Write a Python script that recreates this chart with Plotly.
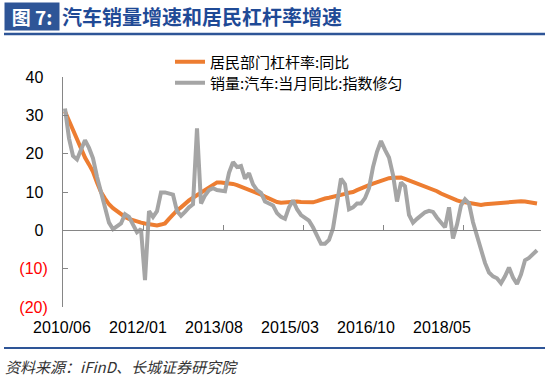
import plotly.graph_objects as go
import pandas as pd

# ---------------- data ----------------
months = [d.strftime("%Y/%m") for d in pd.date_range("2010-06-01", periods=119, freq="MS")]

leverage_yoy = [
    31, 28.5, 26, 23.5, 21.2, 19, 17.2, 15.3, 12.5, 10,
    8.3, 6.8, 5.8, 5, 4.2, 3.5, 3, 2.6, 2.3, 2,
    1.8, 1.6, 1.4, 1.3, 1.5, 1.8, 3, 4.2, 5.2, 6,
    7, 7.8, 8.5, 9.2, 9.8, 10.4, 11, 11.8, 12.5, 12.5,
    12.4, 12.3, 12.1, 11.8, 11.4, 11, 10.7, 10.3, 9.9, 9.3,
    8.8, 8.3, 7.8, 7.4, 7.2, 7.3, 7.4, 7.5, 7.5, 7.4,
    7.3, 7.3, 7.3, 7.6, 8, 8.3, 8.5, 8.7, 9, 9.2,
    9.5, 9.8, 10, 10.5, 11, 11.4, 11.8, 12.2, 12.6, 13,
    13.4, 13.6, 13.7, 13.8, 13.8, 13.4, 13, 12.6, 12.3, 12,
    11.6, 11.2, 10.7, 10.2, 9.6, 9.1, 8.6, 8.2, 7.8, 7.5,
    7.3, 7.1, 6.9, 6.7, 6.6, 6.8, 6.9, 7, 7.1, 7.2,
    7.3, 7.35, 7.45, 7.55, 7.6, 7.5, 7.3, 7.1, 7,
]

auto_sales_yoy = [
    31.8, 24, 19.4, 18.5, 21, 23.5, 21.5, 18.8, 14, 10,
    6.5, 2, 0.3, 0.9, 1.8, 4.2, 3.5, 1.5, -0.5, 0.3,
    -13, 5, 3.5, 5, 9.9, 9.9, 9.6, 9.3, 5, 3.8,
    4.8, 6, 6.8, 26.6, 7, 9.1, 10.5, 11, 10.5, 10.4,
    10.2, 15, 17.8, 16.5, 16.8, 13.5, 14.9, 12, 10.5, 9.8,
    7.5, 7, 6.5, 4.5, 3.5, 3, 6, 7.8, 5.5, 4,
    3.4, 2.5, 0.8, -1.5, -3.5, -3.5, -2.5, 0.5, 7.3, 13.5,
    12, 5.5, 6, 7, 7, 8.4, 11, 16.5, 20.5, 23.3,
    21, 19, 14.5, 7.5, 12.5, 11.5, 4, 2, 3, 4,
    4.7, 5.1, 4.8, 3.3, 2, 0.8, 6, -2.1, 1.5, 6.5,
    8.1, 7, 2.1, -1.3, -5.5, -8.5, -11, -12, -12.5, -13.8,
    -12, -9.7, -12.3, -14, -11.5, -7.8, -7.2, -6.3, -5.2,
]

x_tick_labels = ["2010/06", "2012/01", "2013/08", "2015/03", "2016/10", "2018/05"]
axis_tick_months = ["2012/01", "2013/09", "2015/05", "2017/01", "2018/09"]
y_tick_values = [40, 30, 20, 10, 0, -10, -20]

series_names = ["居民部门杠杆率:同比", "销量:汽车:当月同比:指数修匀"]
title_tag = "图 7:"
title_text = "汽车销量增速和居民杠杆率增速"
source_text = "资料来源：iFinD、长城证券研究院"

# ---------------- styling ----------------
FONT = "Liberation Sans, Arial, Noto Sans CJK SC, sans-serif"
CJK = "Noto Sans CJK SC, Liberation Sans, sans-serif"
ORANGE = "#ED7D31"
GRAY = "#A5A5A5"
AXIS = "#868686"
BLUE = "#1F4A96"
BAR_BLUE = "#2E5597"

W, H = 550, 378
PL, PR, PT, PB = 63, 541, 77, 307   # plot area in px
PW, PH = PR - PL, PB - PT

px = lambda v: (v - PL) / PW      # px -> paper x
py = lambda v: (PB - v) / PH      # px -> paper y

idx = list(range(len(months)))


def fmt_tick(v):
    if v < 0:
        return "<span style='color:#FF0000'>(%d)</span>" % abs(v)
    return "%d\u2008" % v


fig = go.Figure()
fig.add_trace(go.Scatter(x=idx, y=leverage_yoy, mode="lines", name=series_names[0],
                         line=dict(color=ORANGE, width=4), customdata=months,
                         legend="legend"))
fig.add_trace(go.Scatter(x=idx, y=auto_sales_yoy, mode="lines", name=series_names[1],
                         line=dict(color=GRAY, width=4), customdata=months,
                         legend="legend2"))
# helper trace so the zero-line axis is drawn
fig.add_trace(go.Scatter(x=[0], y=[None], xaxis="x2", showlegend=False, hoverinfo="skip"))

y_min, y_max = -20, 40
x_range = [-0.5, 119]

legend_style = dict(xanchor="left", yanchor="middle",
                    font=dict(family=CJK, size=15, color="black"),
                    bgcolor="rgba(0,0,0,0)", borderwidth=0)

fig.update_layout(
    width=W, height=H,
    margin=dict(l=PL, r=W - PR, t=PT, b=H - PB, autoexpand=False),
    paper_bgcolor="white", plot_bgcolor="white",
    font=dict(family=FONT, size=16, color="black"),
    showlegend=True,
    legend=dict(x=px(170), y=py(62), **legend_style),
    legend2=dict(x=px(170), y=py(83), **legend_style),
    xaxis=dict(range=x_range, tickmode="array",
               tickvals=[months.index(l) for l in x_tick_labels],
               ticktext=x_tick_labels, ticks="", showline=False,
               showgrid=False, zeroline=False,
               tickfont=dict(size=16, color="black"),
               ticklabelshift=-3, ticklabelstandoff=9),
    xaxis2=dict(overlaying="x", anchor="free",
                position=(0 - y_min) / (y_max - y_min),
                range=x_range, showline=True, linecolor=AXIS, linewidth=1,
                ticks="inside", ticklen=5, tickcolor=AXIS,
                tickvals=[months.index(m) + 0.5 for m in axis_tick_months],
                showticklabels=False, showgrid=False, zeroline=False),
    yaxis=dict(range=[y_min, y_max], tickmode="array", tickvals=y_tick_values,
               ticktext=[fmt_tick(v) for v in y_tick_values],
               showline=True, linecolor=AXIS, linewidth=1,
               ticks="inside", ticklen=5, tickcolor=AXIS,
               showgrid=False, zeroline=False,
               tickfont=dict(size=16, color="black"), ticklabelstandoff=11),
)

fig.add_shape(type="line", xref="paper", yref="paper", x0=px(4), x1=px(545),
              y0=py(34), y1=py(34), line=dict(color=BAR_BLUE, width=2.5))
fig.add_shape(type="line", xref="paper", yref="paper", x0=px(4), x1=px(545),
              y0=py(348), y1=py(348), line=dict(color=BAR_BLUE, width=2))

fig.add_annotation(xref="paper", yref="paper", x=px(32), y=py(16.5),
                   xanchor="center", yanchor="middle", showarrow=False,
                   text="<b>%s</b>" % title_tag, bgcolor=BAR_BLUE,
                   width=52, height=25,
                   font=dict(family=CJK, size=19, color="white"))
fig.add_annotation(xref="paper", yref="paper", x=px(60), y=py(17),
                   xanchor="left", yanchor="middle", showarrow=False,
                   text="<b>%s</b>" % title_text,
                   font=dict(family=CJK, size=20, color=BLUE))
fig.add_annotation(xref="paper", yref="paper", x=px(3), y=py(366),
                   xanchor="left", yanchor="middle", showarrow=False,
                   text="<i>%s</i>" % source_text,
                   font=dict(family=CJK, size=15, color="#333333"))

fig.write_html("out.html",
               config={"displayModeBar": False},
               post_script="document.body.style.margin='0';document.body.style.overflow='hidden';")
